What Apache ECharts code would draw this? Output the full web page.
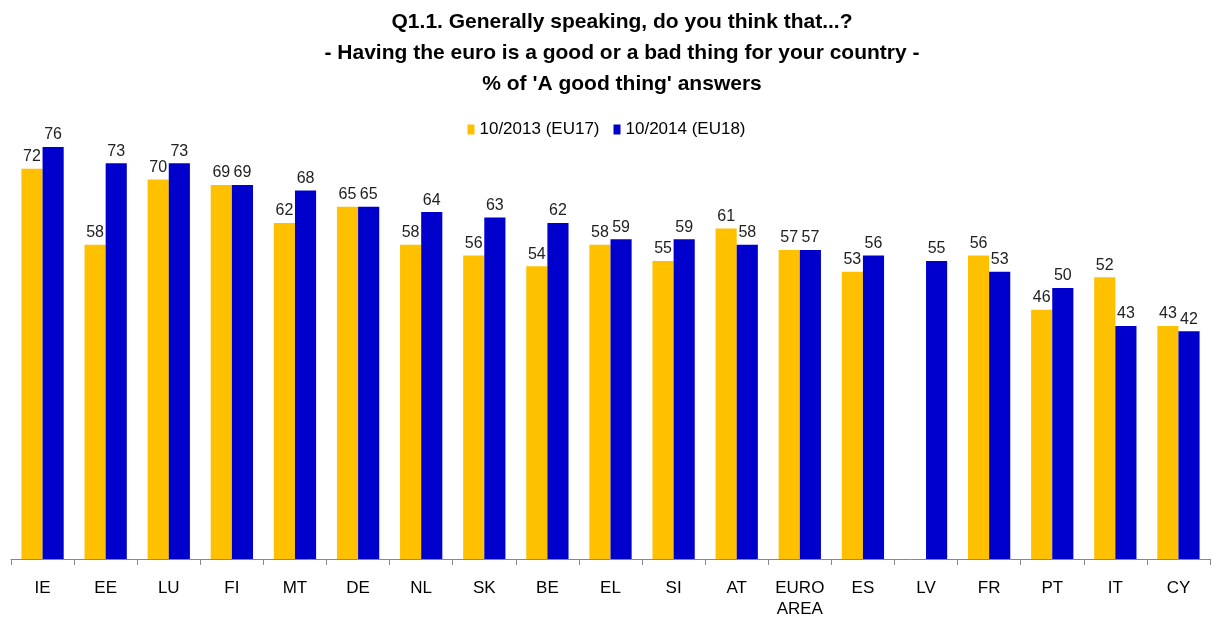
<!DOCTYPE html>
<html><head><meta charset="utf-8">
<script src="https://cdn.jsdelivr.net/npm/echarts@6/dist/echarts.min.js"></script>
<style>html,body{margin:0;padding:0;background:#fff}#c{width:1213px;height:617px}</style>
</head><body><div id="c"></div>
<script>
const categories = ['IE','EE','LU','FI','MT','DE','NL','SK','BE','EL','SI','AT','EURO\nAREA','ES','LV','FR','PT','IT','CY'];
const series2013 = [72,58,70,69,62,65,58,56,54,58,55,61,57,53,null,56,46,52,43];
const series2014 = [76,73,73,69,68,65,64,63,62,59,59,58,57,56,55,53,50,43,42];
const seriesNames = ['10/2013 (EU17)','10/2014 (EU18)'];
const titleText = "Q1.1. Generally speaking, do you think that...?\n- Having the euro is a good or a bad thing for your country -\n% of 'A good thing' answers";

const FONT = '"Liberation Sans",Arial,sans-serif';
const chart = echarts.init(document.getElementById('c'));
const label = {show:true, position:'top', distance:4, color:'#222', fontSize:16, fontFamily:FONT};
chart.setOption({
  animation:false,
  title:{text:titleText, left:617, textAlign:'center', top:2,
    textStyle:{fontFamily:FONT, fontWeight:'bold', fontSize:21, lineHeight:31, color:'#000'}},
  legend:{top:116, left:'center', icon:'rect', itemWidth:7, itemHeight:10, itemGap:14,
    textStyle:{fontFamily:FONT, fontSize:17, color:'#000'}},
  grid:{left:11, right:3, top:17, bottom:58, outerBoundsMode:'none', containLabel:false},
  xAxis:{type:'category', data:categories,
    axisLine:{lineStyle:{color:'#888'}},
    axisTick:{show:true, length:6, lineStyle:{color:'#888'}},
    axisLabel:{fontFamily:FONT, fontSize:17, color:'#000', margin:19, lineHeight:21, interval:0}},
  yAxis:{type:'value', min:0, max:100, show:false, splitLine:{show:false}},
  series:[
    {name:seriesNames[0], type:'bar', data:series2013, barGap:'0%', barCategoryGap:'33%',
     itemStyle:{color:'#FFC000'}, label},
    {name:seriesNames[1], type:'bar', data:series2014, barGap:'0%', barCategoryGap:'33%',
     itemStyle:{color:'#0000CC'}, label}
  ]
});
</script></body></html>
